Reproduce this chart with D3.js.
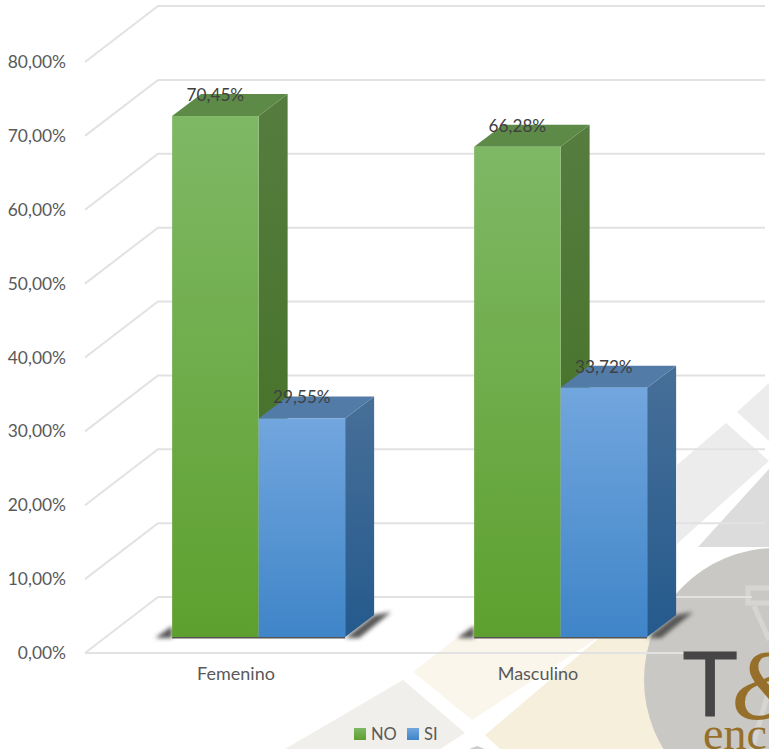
<!DOCTYPE html>
<html>
<head>
<meta charset="utf-8">
<script src="https://cdn.jsdelivr.net/npm/d3@7"></script>
<style>
html, body { margin: 0; padding: 0; background: #fff; }
svg { display: block; }
text { font-family: Lato, "Open Sans", sans-serif; }
</style>
</head>
<body>
<div id="chart_wrapper"></div>
<script>
var categories = ["Femenino", "Masculino"];
var seriesNames = ["NO", "SI"];
var noValues = [70.45, 66.28];
var siValues = [29.55, 33.72];
var yTicks = [0, 10, 20, 30, 40, 50, 60, 70, 80];

var width = 769, height = 749;
var depthX = 29, depthY = 22;   // side face of the bars
var floorX = 73, floorY = 56;   // left wall of the 3d box
var fmt = function(v) { return v.toFixed(2).replace(".", ",") + "%"; };

var colors = {
    NO: { top: "#7fb865", bottom: "#5ea02f", lid: "#5d8a47", sideTop: "#567d3f", sideBottom: "#3f6e20" },
    SI: { top: "#72a6de", bottom: "#3f85c8", lid: "#527ba8", sideTop: "#476f98", sideBottom: "#255a8d" }
};

var svg = d3.select("#chart_wrapper").append("svg").attr("width", width).attr("height", height);
var defs = svg.append("defs");

seriesNames.forEach(function(s) {
    var g1 = defs.append("linearGradient").attr("id", "front" + s).attr("x1", 0).attr("x2", 0).attr("y1", 0).attr("y2", 1);
    g1.append("stop").attr("offset", "0%").attr("stop-color", colors[s].top);
    g1.append("stop").attr("offset", "100%").attr("stop-color", colors[s].bottom);
    var g2 = defs.append("linearGradient").attr("id", "side" + s).attr("x1", 0).attr("x2", 0).attr("y1", 0).attr("y2", 1);
    g2.append("stop").attr("offset", "0%").attr("stop-color", colors[s].sideTop);
    g2.append("stop").attr("offset", "100%").attr("stop-color", colors[s].sideBottom);
});
defs.append("filter").attr("id", "soft").attr("x", "-30%").attr("y", "-30%").attr("width", "160%").attr("height", "160%")
    .append("feGaussianBlur").attr("stdDeviation", 2.2);
defs.append("filter").attr("id", "tiny")
    .append("feGaussianBlur").attr("stdDeviation", 0.4);

// watermark behind the chart
var wm = svg.append("g").attr("class", "watermark");
var shapes = [
    { fill: "#f1efeb", pts: [[403,680],[465,733],[440,749],[285,749]] },
    { fill: "#fbf6ec", pts: [[413,672],[480,620],[625,620],[472,720]] },
    { fill: "#f5efdb", pts: [[485,735],[605,633],[700,633],[700,749],[500,749]] },
    { fill: "#cfcdca", pts: [[477,746],[469,749],[485,749]] },
    { fill: "#ececec", pts: [[737,412],[769,383],[769,441]] },
    { fill: "#ececec", pts: [[726,423],[769,461],[677,544],[677,465]] },
    { fill: "#dcdcdc", pts: [[698,547],[769,469],[769,547]] }
];
wm.selectAll("polygon").data(shapes).enter().append("polygon")
    .attr("points", function(d) { return d.pts.join(" "); })
    .attr("fill", function(d) { return d.fill; });
wm.append("circle").attr("cx", 776).attr("cy", 680).attr("r", 132).attr("fill", "#c9c8c4");
wm.append("path").attr("d", "M769,588H748V603H769M754,606L769,640M769,690L752,749")
    .attr("fill", "none").attr("stroke", "#d6d5d1").attr("stroke-width", 5);

var x0 = d3.scaleBand().domain(categories).range([85, 689]);
var x1 = d3.scaleBand().domain(seriesNames).range([0, 173]);
var yFront = d3.scaleLinear().domain([0, 80]).range([653, 62]);
var yBar = d3.scaleLinear().domain([0, 80]).range([637, 45.4]);

// gridlines on the back and left walls
var grid = svg.append("g").attr("class", "grid").attr("fill", "none")
    .attr("stroke", "#e2e2e2").attr("stroke-width", 2).attr("filter", "url(#tiny)");
grid.selectAll("path").data(yTicks.slice(1)).enter().append("path")
    .attr("d", function(d) {
        var y = yFront(d);
        return "M85," + y + "L" + (85 + floorX) + "," + (y - floorY) + "H765";
    });
grid.append("path").attr("d", "M85," + yFront(0) + "L" + (85 + floorX) + "," + (yFront(0) - floorY) + "H752");
grid.append("path").attr("d", "M85," + yFront(0) + "H689");

// axes
var yAxis = d3.axisLeft(yFront).tickValues(yTicks).tickSize(0).tickPadding(19).tickFormat(fmt);
var gy = svg.append("g").attr("transform", "translate(85,0)").call(yAxis);
gy.select(".domain").remove();
gy.selectAll("text").attr("font-size", 17.4).attr("fill", "#595959");

var xAxis = d3.axisBottom(x0).tickSize(0).tickPadding(14);
var gx = svg.append("g").attr("transform", "translate(0,653)").call(xAxis);
gx.select(".domain").remove();
gx.selectAll("text").attr("font-size", 18).attr("fill", "#595959");

// bars
var rows = categories.map(function(c, i) {
    return { category: c, values: [{ s: "NO", v: noValues[i] }, { s: "SI", v: siValues[i] }] };
});
var groupOffset = (x0.bandwidth() - 173) / 2 + floorX * 0.31;

var groups = svg.selectAll(".group").data(rows).enter().append("g").attr("class", "group")
    .attr("transform", function(d) { return "translate(" + (x0(d.category) + groupOffset) + ",0)"; });

// floor shadows
groups.append("path")
    .attr("d", function() {
        var b = yBar(0), w = x1.range()[1];
        return "M-17," + (b + 1) + "L0," + (b - 11) + "V" + (b + 1) + "Z" +
            "M" + w + "," + (b + 1) + "L" + (w + depthX) + "," + (b - depthY) + "L" + (w + depthX + 17) + "," + (b - depthY - 3) + "L" + (w + 14) + "," + (b + 1) + "Z";
    })
    .attr("fill", "#555").attr("filter", "url(#soft)");
groups.append("rect").attr("x", 0).attr("y", yBar(0) - 0.5).attr("width", x1.range()[1]).attr("height", 2)
    .attr("fill", "#555").attr("filter", "url(#tiny)");

var bars = groups.selectAll(".bar").data(function(d) { return d.values; }).enter().append("g").attr("class", "bar");

bars.append("path").attr("fill", function(d) { return "url(#side" + d.s + ")"; })
    .attr("d", function(d) {
        var r = x1(d.s) + x1.bandwidth(), t = yBar(d.v), b = yBar(0);
        return "M" + r + "," + t + "L" + (r + depthX) + "," + (t - depthY) + "V" + (b - depthY) + "L" + r + "," + b + "Z";
    });
bars.append("path").attr("fill", function(d) { return colors[d.s].lid; })
    .attr("d", function(d) {
        var l = x1(d.s), r = l + x1.bandwidth(), t = yBar(d.v);
        return "M" + l + "," + t + "L" + (l + depthX) + "," + (t - depthY) + "H" + (r + depthX) + "L" + r + "," + t + "Z";
    });
bars.append("rect").attr("fill", function(d) { return "url(#front" + d.s + ")"; })
    .attr("x", function(d) { return x1(d.s); })
    .attr("y", function(d) { return yBar(d.v); })
    .attr("width", x1.bandwidth())
    .attr("height", function(d) { return yBar(0) - yBar(d.v); });

// data labels go on top of all the bars
var labels = svg.append("g").attr("class", "labels");
rows.forEach(function(r) {
    r.values.forEach(function(d) {
        labels.append("text")
            .attr("x", x0(r.category) + groupOffset + x1(d.s) + x1.bandwidth() / 2)
            .attr("y", yBar(d.v) - 21)
            .attr("dy", "0.35em")
            .attr("text-anchor", "middle")
            .attr("font-size", 17.2)
            .attr("fill", "#404040")
            .text(fmt(d.v));
    });
});

// legend
var legendX = d3.scaleOrdinal().domain(seriesNames).range([354, 407]);
var legend = svg.selectAll(".legend").data(seriesNames).enter().append("g").attr("class", "legend")
    .attr("transform", function(d) { return "translate(" + legendX(d) + ",728)"; });
legend.append("rect").attr("width", 12).attr("height", 12).attr("fill", function(d) { return "url(#front" + d + ")"; });
legend.append("text").attr("x", 17).attr("y", 6).attr("dy", "0.35em").attr("font-size", 16.5).attr("fill", "#595959").text(function(d) { return d; });

// logo text
var logo = svg.append("g").attr("class", "logo");
logo.append("text").attr("x", 682).attr("y", 716).attr("font-size", 92).attr("fill", "#464646")
    .attr("stroke", "#464646").attr("stroke-width", 1)
    .style("font-family", "'Liberation Sans'").text("T");
logo.append("text").attr("x", 731).attr("y", 718).attr("font-size", 100).attr("fill", "#96702a")
    .style("font-family", "'Liberation Serif'").style("font-style", "italic").text("&");
logo.append("text").attr("x", 703).attr("y", 749).attr("font-size", 46).attr("fill", "#96702a")
    .style("font-family", "'Liberation Serif'").text("enc");
</script>
</body>
</html>
